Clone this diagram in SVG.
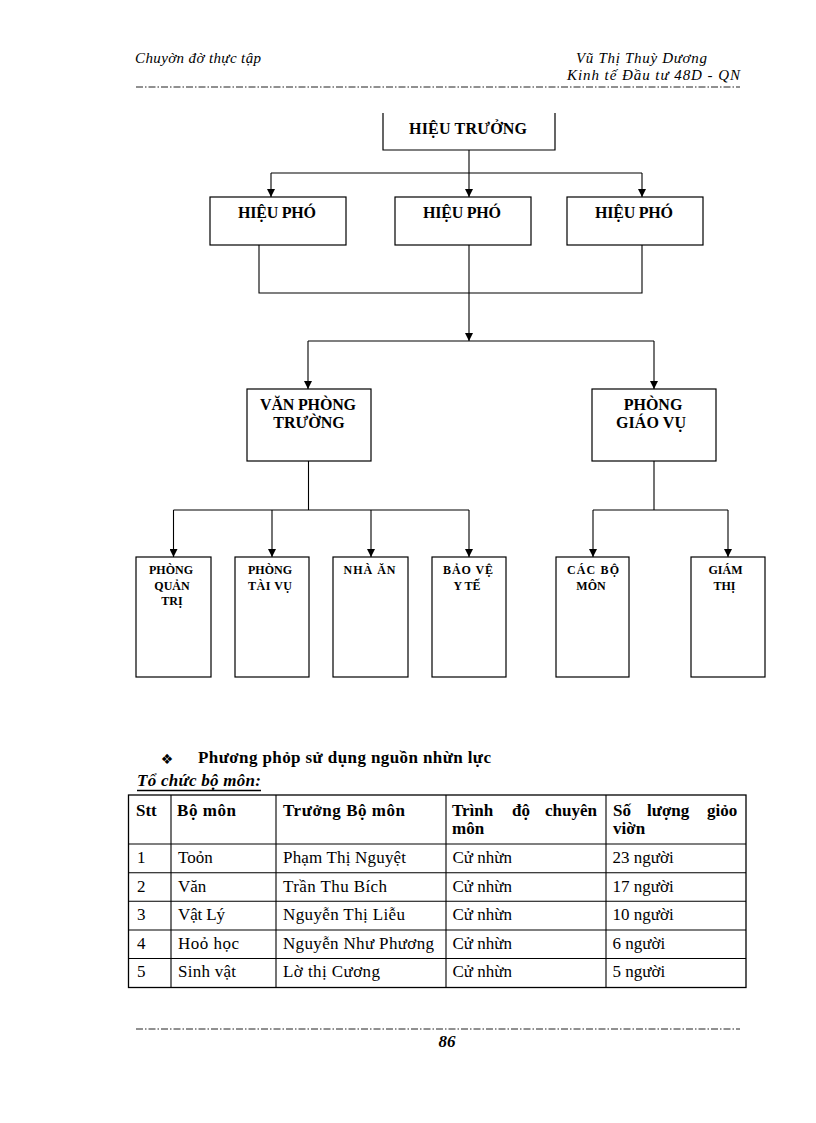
<svg xmlns="http://www.w3.org/2000/svg" width="816" height="1123" viewBox="0 0 816 1123">
<style>
.box{fill:#fff;stroke:#000;stroke-width:1.2}
.ln{fill:none;stroke:#000;stroke-width:1.1}
.hd{font-family:"Liberation Serif","Times New Roman",serif;font-style:italic;font-size:15px;fill:#000}
.cb{font-family:"Liberation Serif","Times New Roman",serif;font-weight:bold;font-size:16px;fill:#000;text-anchor:middle}
.sb{font-family:"Liberation Serif","Times New Roman",serif;font-weight:bold;font-size:12px;fill:#000;text-anchor:middle}
.th{font-family:"Liberation Serif","Times New Roman",serif;font-weight:bold;font-size:17px;fill:#000}
.td{font-family:"Liberation Serif","Times New Roman",serif;font-size:17px;fill:#000}
.dash{stroke:#222;stroke-width:1;stroke-dasharray:7 2 1.5 2}
</style>
<defs>
<marker id="ah" viewBox="0 0 8 8" refX="8" refY="4" markerWidth="8" markerHeight="8" markerUnits="userSpaceOnUse" orient="auto">
<path d="M0,0 L8,4 L0,8 z" fill="#000"/>
</marker>
</defs>
<rect width="816" height="1123" fill="#fff"/>

<g id="header">
<text class="hd" x="135" y="63" textLength="126">Chuyờn đờ thực tập</text>
<text class="hd" x="576" y="63" textLength="131">Vũ Thị Thuỳ Dương</text>
<text class="hd" x="567" y="80" textLength="173">Kinh tế Đầu tư 48D - QN</text>
<line class="dash" x1="136" y1="87" x2="740" y2="87"/>
</g>

<g id="connectors">
<path class="ln" d="M469,150 V173 M271,173 H642"/>
<path class="ln" d="M271,173 V197" marker-end="url(#ah)"/>
<path class="ln" d="M469,173 V197" marker-end="url(#ah)"/>
<path class="ln" d="M642,173 V197" marker-end="url(#ah)"/>
<path class="ln" d="M259,245 V293 H642 V245"/>
<path class="ln" d="M469,245 V341" marker-end="url(#ah)"/>
<path class="ln" d="M308,341 H654"/>
<path class="ln" d="M308,341 V389" marker-end="url(#ah)"/>
<path class="ln" d="M654,341 V389" marker-end="url(#ah)"/>
<path class="ln" d="M308.5,461 V510 M173.5,510 H469"/>
<path class="ln" d="M173.5,510 V557" marker-end="url(#ah)"/>
<path class="ln" d="M272,510 V557" marker-end="url(#ah)"/>
<path class="ln" d="M371,510 V557" marker-end="url(#ah)"/>
<path class="ln" d="M469,510 V557" marker-end="url(#ah)"/>
<path class="ln" d="M654,461 V510 M593,510 H728"/>
<path class="ln" d="M593,510 V557" marker-end="url(#ah)"/>
<path class="ln" d="M728,510 V557" marker-end="url(#ah)"/>
</g>

<g id="hieu-truong">
<path class="box" d="M383,113 V150 H555 V113" fill="none"/>
<text class="cb" x="468" y="134" textLength="118">HIỆU TRƯỞNG</text>
</g>
<g id="hieu-pho-1">
<rect class="box" x="210" y="197" width="136" height="48"/>
<text class="cb" x="277" y="218" textLength="78">HIỆU PHÓ</text>
</g>
<g id="hieu-pho-2">
<rect class="box" x="395" y="197" width="136" height="48"/>
<text class="cb" x="462" y="218" textLength="78">HIỆU PHÓ</text>
</g>
<g id="hieu-pho-3">
<rect class="box" x="567" y="197" width="136" height="48"/>
<text class="cb" x="634" y="218" textLength="78">HIỆU PHÓ</text>
</g>
<g id="van-phong">
<rect class="box" x="247" y="389" width="124" height="72"/>
<text class="cb" x="308" y="410" textLength="96">VĂN PHÒNG</text>
<text class="cb" x="309" y="428">TRƯỜNG</text>
</g>
<g id="phong-giao-vu">
<rect class="box" x="592" y="389" width="124" height="72"/>
<text class="cb" x="653" y="410">PHÒNG</text>
<text class="cb" x="651" y="428" textLength="70">GIÁO VỤ</text>
</g>

<g id="phong-quan-tri">
<rect class="box" x="136" y="557" width="75" height="120"/>
<text class="sb" x="171" y="574">PHÒNG</text>
<text class="sb" x="172" y="590">QUẢN</text>
<text class="sb" x="172" y="605">TRỊ</text>
</g>
<g id="phong-tai-vu">
<rect class="box" x="235" y="557" width="74" height="120"/>
<text class="sb" x="270" y="574">PHÒNG</text>
<text class="sb" x="270" y="590" textLength="44">TÀI VỤ</text>
</g>
<g id="nha-an">
<rect class="box" x="333" y="557" width="75" height="120"/>
<text class="sb" x="369.5" y="574" textLength="52">NHÀ ĂN</text>
</g>
<g id="bao-ve">
<rect class="box" x="432" y="557" width="74" height="120"/>
<text class="sb" x="468" y="574" textLength="50">BẢO VỆ</text>
<text class="sb" x="467" y="590">Y TẾ</text>
</g>
<g id="cac-bo-mon">
<rect class="box" x="556" y="557" width="73" height="120"/>
<text class="sb" x="593" y="574" textLength="52">CÁC BỘ</text>
<text class="sb" x="591" y="590">MÔN</text>
</g>
<g id="giam-thi">
<rect class="box" x="691" y="557" width="74" height="120"/>
<text class="sb" x="725.5" y="574">GIÁM</text>
<text class="sb" x="724.5" y="590">THỊ</text>
</g>

<g id="section">
<text x="167" y="764" font-family="DejaVu Sans,sans-serif" font-size="14" text-anchor="middle">❖</text>
<text class="th" x="198" y="763" font-size="16" textLength="293">Phương phỏp sử dụng nguồn nhừn lực</text>
<text class="th" x="137" y="786" font-style="italic" font-size="16" textLength="124">Tổ chức bộ môn:</text>
<line x1="137" y1="790.5" x2="261" y2="790.5" stroke="#000" stroke-width="1.3"/>
</g>

<g id="table">
<rect x="128.5" y="795" width="617.5" height="192.5" fill="none" stroke="#000" stroke-width="1.3"/>
<path d="M171,795 V987.5 M276,795 V987.5 M446,795 V987.5 M606,795 V987.5 M128.5,844 H746 M128.5,872.7 H746 M128.5,901.3 H746 M128.5,930 H746 M128.5,958.5 H746" fill="none" stroke="#000" stroke-width="1.1"/>
<text class="th" x="136" y="816">Stt</text>
<text class="th" x="177" y="816" textLength="59">Bộ môn</text>
<text class="th" x="283" y="816" textLength="122">Trưởng Bộ môn</text>
<text class="th" x="452" y="816">Trình</text>
<text class="th" x="512" y="816">độ</text>
<text class="th" x="545" y="816">chuyên</text>
<text class="th" x="452" y="834">môn</text>
<text class="th" x="613" y="816">Số</text>
<text class="th" x="647" y="816">lượng</text>
<text class="th" x="707" y="816">giỏo</text>
<text class="th" x="613" y="834">viờn</text>

<text class="td" x="137" y="863">1</text>
<text class="td" x="178" y="863">Toỏn</text>
<text class="td" x="283" y="863" textLength="123">Phạm Thị Nguyệt</text>
<text class="td" x="452.5" y="863">Cử nhừn</text>
<text class="td" x="612.5" y="863">23 người</text>

<text class="td" x="137" y="892">2</text>
<text class="td" x="178" y="892">Văn</text>
<text class="td" x="283" y="892" textLength="104">Trần Thu Bích</text>
<text class="td" x="452.5" y="892">Cử nhừn</text>
<text class="td" x="612.5" y="892">17 người</text>

<text class="td" x="137" y="920">3</text>
<text class="td" x="178" y="920" textLength="47">Vật Lý</text>
<text class="td" x="283" y="920" textLength="122">Nguyễn Thị Liễu</text>
<text class="td" x="452.5" y="920">Cử nhừn</text>
<text class="td" x="612.5" y="920">10 người</text>

<text class="td" x="137" y="949">4</text>
<text class="td" x="178" y="949" textLength="61">Hoỏ học</text>
<text class="td" x="283" y="949" textLength="151">Nguyễn Như Phương</text>
<text class="td" x="452.5" y="949">Cử nhừn</text>
<text class="td" x="612.5" y="949">6 người</text>

<text class="td" x="137" y="977">5</text>
<text class="td" x="178" y="977" textLength="58">Sinh vật</text>
<text class="td" x="283" y="977" textLength="97">Lờ thị Cương</text>
<text class="td" x="452.5" y="977">Cử nhừn</text>
<text class="td" x="612.5" y="977">5 người</text>
</g>

<g id="footer">
<line class="dash" x1="136" y1="1029" x2="740" y2="1029"/>
<text x="447" y="1047" font-family="Liberation Serif,serif" font-weight="bold" font-style="italic" font-size="17" text-anchor="middle">86</text>
</g>
</svg>
